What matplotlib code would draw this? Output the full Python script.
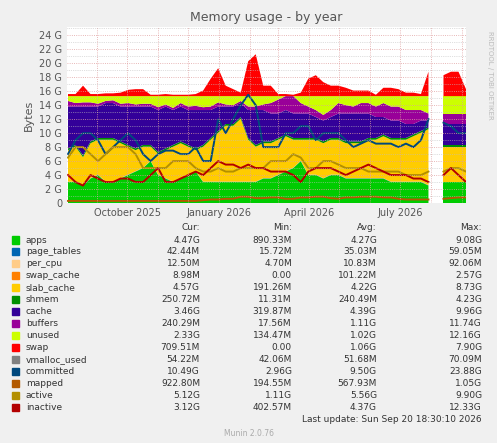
import numpy as np
import pandas as pd
import matplotlib
matplotlib.use("Agg")
import matplotlib.pyplot as plt
import matplotlib.dates as mdates

nan = np.nan
# weekly samples, values in GB
apps = [3, 3, 2.5, 3.5, 4, 3, 3, 3.5, 4,
        4.5, 5, 6, 4, 3.5, 3, 3.5, 4, 4.5,
        3, 3, 3, 3, 3, 3, 3, 3, 3.5,
        3.5, 4, 4.5, 5, 6, 4, 4, 3.5, 4,
        4, 3.5, 3.5, 3.5, 3.5, 3.5, 3.5, 3, 3,
        3, 3, 3, 2.5, nan, 3, 3, 3, 3]
slab_cache = [4.5, 5, 4, 5, 5, 6, 6, 5, 4,
              3, 3, 2, 3, 4, 5, 5, 4, 3,
              5, 6, 7, 8, 8, 9, 6, 5, 5,
              5, 5, 5, 4, 3, 5, 5, 5, 5,
              5, 5, 5, 5, 5.5, 5.5, 6, 6, 6,
              6, 6.5, 7, 8, nan, 5, 5, 5, 5]
cache = [6, 5.5, 7, 5, 4.5, 5, 5, 5, 5.5,
         6, 5.5, 5.5, 6, 6, 5, 5, 5, 5.5,
         5, 4, 3.5, 2.5, 2.5, 2, 4, 5, 4.5,
         4, 3.5, 3.5, 3.5, 3.5, 3.5, 3, 3, 3,
         3.5, 4, 4, 4, 3.5, 3, 2.5, 2.5, 2.5,
         2, 1.5, 1.5, 1, nan, 3, 3, 3, 3]
buffers = [0.8, 0.5, 0.6, 0.6, 0.4, 0.3, 0.4, 0.4, 0.5,
           0.3, 0.4, 0.4, 0.4, 0.3, 0.3, 0.5, 0.5, 0.6,
           0.4, 0.5, 0.6, 0.3, 0.2, 0.3, 0.5, 0.5, 0.8,
           1.5, 2, 2, 2.5, 1.5, 1, 1, 0.8, 1,
           1.5, 1.2, 1, 1.5, 1.5, 1.5, 2, 2, 2,
           2, 2, 1.5, 1, nan, 1.5, 1.5, 1.5, 1.5]
page_tables = [0.04] * 54
per_cpu = [0.012] * 54
swap_cache = [0.01] * 54
shmem = [0.25] * 54
total_ram = 15.3
swap = [0.3, 0.3, 1.5, 0.3, 0.3, 0.4, 0.4, 0.5, 0.9,
        1, 1, 0.2, 0.2, 0.3, 0.2, 0.2, 0.2, 0.3,
        0.8, 2.5, 4, 1.5, 1, 0.5, 5, 6, 1.5,
        1.5, 0.3, 0.3, 0.2, 0.5, 2.5, 3, 2, 1.5,
        1.5, 1.2, 0.8, 0.8, 0.8, 0.2, 1.2, 1.2, 1,
        0.5, 0.5, 0.3, 3.5, nan, 3, 3.5, 3.5, 1]
committed = [7, 9, 10, 10, 9, 7, 8, 9, 10,
             9, 7, 6, 7, 7.5, 7.5, 7, 7, 8,
             6, 6, 12, 10, 12, 14, 15.5, 14, 8,
             8, 8, 10, 10, 11, 11, 9, 10, 10,
             10, 9, 8, 8.5, 9, 8.5, 8.5, 8.5, 8,
             8.5, 8, 9, 12, nan, 11.5, 11, 10, 10]
active = [6.5, 8, 8, 7, 6, 7, 8, 8, 8,
          7, 5, 5, 5, 5, 6, 6, 6, 5,
          4.5, 4.5, 5, 4.5, 4.5, 5, 5, 5, 5,
          6, 6, 6, 7, 6.5, 5, 5, 6, 6,
          5.5, 5, 5, 5, 4.5, 4.5, 4.5, 4.5, 4.5,
          4, 4, 4, 4.5, nan, 4.5, 5, 5, 4.5]
inactive = [4, 3, 2.5, 4, 3.5, 3, 3, 3.5, 3.5,
            3, 3, 4, 5, 3, 3, 3.5, 4, 4.5,
            4, 5, 6, 5.5, 5.5, 5, 5.5, 5, 5,
            4.5, 4.5, 4.5, 4, 3, 4.5, 5, 5, 5,
            4.5, 4, 4.5, 5, 5.5, 5, 4.5, 4, 4,
            4, 3.5, 3.5, 3, nan, 4, 5, 4, 3]
mapped = [0.3, 0.3, 0.3, 0.3, 0.3, 0.3, 0.3, 0.3, 0.3,
          0.3, 0.3, 0.3, 0.3, 0.3, 0.3, 0.3, 0.3, 0.3,
          0.4, 0.5, 0.5, 0.6, 0.6, 0.9, 0.9, 0.7, 0.7,
          0.8, 0.8, 0.6, 0.6, 0.8, 0.8, 0.9, 0.9, 0.7,
          0.6, 0.8, 0.8, 0.9, 0.9, 0.9, 0.8, 0.8, 0.6,
          0.5, 0.5, 0.5, 0.5, nan, 0.6, 0.7, 0.8, 0.8]

names = ["apps", "page_tables", "per_cpu", "swap_cache", "slab_cache", "shmem", "cache",
         "buffers", "unused", "swap", "vmalloc_used", "committed", "mapped", "active", "inactive"]
colors = ["#00CC00", "#0066B3", "#FFCC88", "#FF8000", "#FFCC00", "#008F00", "#330099",
          "#990099", "#CCFF00", "#FF0000", "#808080", "#00487D", "#B35A00", "#B38F00", "#B30000"]
cur = ["4.47G", "42.44M", "12.50M", "8.98M", "4.57G", "250.72M", "3.46G", "240.29M", "2.33G",
       "709.51M", "54.22M", "10.49G", "922.80M", "5.12G", "3.12G"]
mins = ["890.33M", "15.72M", "4.70M", "0.00", "191.26M", "11.31M", "319.87M", "17.56M", "134.47M",
        "0.00", "42.06M", "2.96G", "194.55M", "1.11G", "402.57M"]
avgs = ["4.27G", "35.03M", "10.83M", "101.22M", "4.22G", "240.49M", "4.39G", "1.11G", "1.02G",
        "1.06G", "51.68M", "9.50G", "567.93M", "5.56G", "4.37G"]
maxs = ["9.08G", "59.05M", "92.06M", "2.57G", "8.73G", "4.23G", "9.96G", "11.74G", "12.16G",
        "7.90G", "70.09M", "23.88G", "1.05G", "9.90G", "12.33G"]

n = len(apps)
dates = pd.date_range("2025-08-03", "2026-09-05", periods=n)
used = np.array(apps) + np.array(page_tables) + np.array(per_cpu) + np.array(swap_cache) \
    + np.array(slab_cache) + np.array(shmem) + np.array(cache) + np.array(buffers)
unused = np.where(np.isnan(used), nan, total_ram - used)

fig = plt.figure(figsize=(4.97, 4.43), dpi=100, facecolor="#F0F0F0")
ax = fig.add_axes([67 / 497, 240 / 443, 399 / 497, 176 / 443])
ax.set_facecolor("white")

layers = [apps, page_tables, per_cpu, swap_cache, slab_cache, shmem, cache, buffers, unused, swap]
base = np.zeros(n)
for vals, c in zip(layers, colors[:10]):
    v = np.array(vals, dtype=float)
    ax.fill_between(dates, base, base + v, color=c, linewidth=0)
    base = base + v

for vals, c in zip([committed, mapped, active, inactive], colors[11:]):
    ax.plot(dates, vals, color=c, lw=1.4)

ax.set_xlim(pd.Timestamp("2025-08-02"), pd.Timestamp("2026-09-05"))
ax.set_ylim(0, 25.2)
ax.set_yticks(range(0, 25, 2))
ax.set_yticklabels([f"{v} G" if v else "0" for v in range(0, 25, 2)], fontsize=7, color="#555555")
ax.set_yticks(range(0, 26), minor=True)
ax.xaxis.set_major_locator(mdates.MonthLocator(bymonth=[1, 4, 7, 10]))
ax.xaxis.set_major_formatter(mdates.DateFormatter("%B %Y"))
ax.xaxis.set_minor_locator(mdates.MonthLocator())
ax.tick_params(axis="x", labelsize=7, colors="#555555", length=0, which="both")
ax.tick_params(axis="y", length=0, which="both")
ax.grid(True, which="major", axis="y", color="#E0A0A0", ls=":", lw=0.6)
ax.grid(True, which="minor", axis="y", color="#C0C0C0", ls=":", lw=0.5)
ax.grid(True, which="both", axis="x", color="#E0A0A0", ls=":", lw=0.6)
ax.set_axisbelow(False)
for s in ax.spines.values():
    s.set_visible(False)
ax.set_ylabel("Bytes", fontsize=8, color="#555555")
ax.set_title("Memory usage - by year", fontsize=9, color="#555555", pad=4)
fig.text(0.985, 0.83, "RRDTOOL / TOBI OETIKER", rotation=270, fontsize=5, color="#BBBBBB",
         ha="center", va="center")

fs = 6.5
y0 = 1 - 227 / 443
for x, t in [(200, "Cur:"), (292, "Min:"), (377, "Avg:"), (482, "Max:")]:
    fig.text(x / 497, y0, t, ha="right", va="center", fontsize=fs, color="#333333")
for i, name in enumerate(names):
    y = 1 - (240 + i * 11.95) / 443
    fig.patches.append(plt.Rectangle((12 / 497, y - 0.008), 7 / 497, 0.016, color=colors[i],
                                     transform=fig.transFigure, figure=fig))
    fig.text(26 / 497, y, name, va="center", fontsize=fs, color="#333333")
    for x, t in [(200, cur[i]), (292, mins[i]), (377, avgs[i]), (482, maxs[i])]:
        fig.text(x / 497, y, t, ha="right", va="center", fontsize=fs, color="#333333")
fig.text(482 / 497, 1 - 420 / 443, "Last update: Sun Sep 20 18:30:10 2026", ha="right", va="center",
         fontsize=fs, color="#333333")
fig.text(0.5, 1 - 434 / 443, "Munin 2.0.76", ha="center", va="center", fontsize=5.5, color="#AAAAAA")

fig.savefig("out.png", dpi=100, facecolor=fig.get_facecolor())
